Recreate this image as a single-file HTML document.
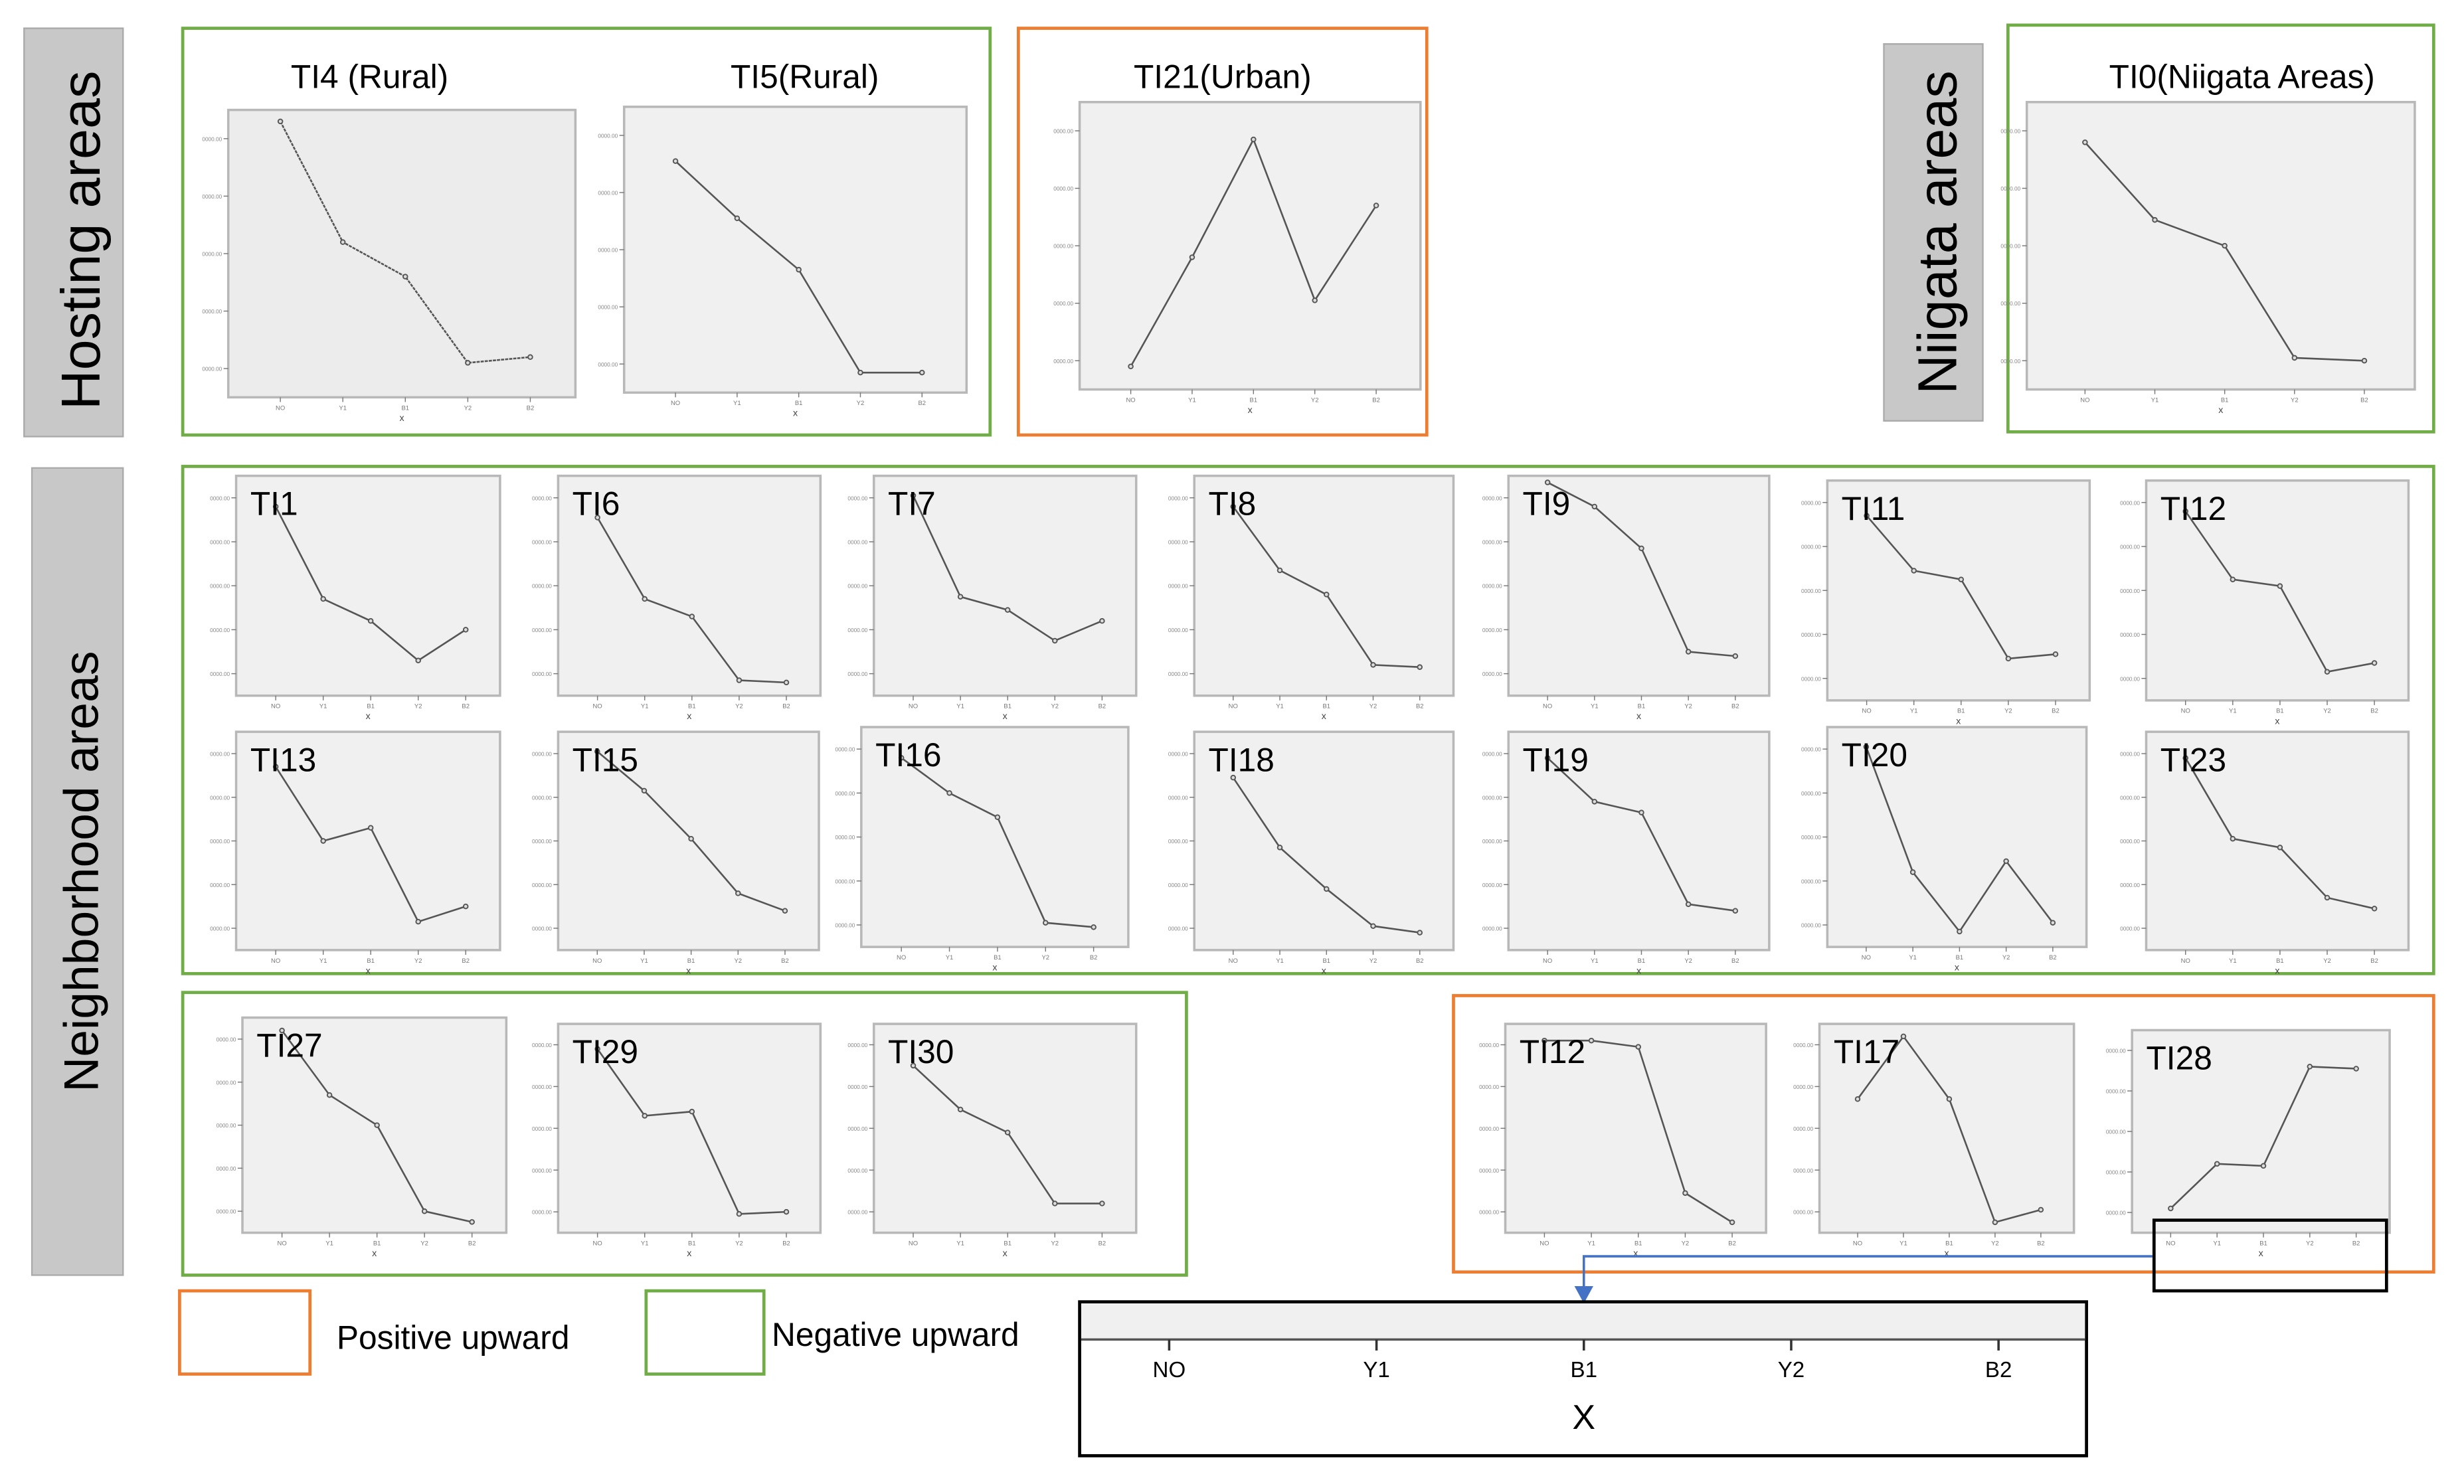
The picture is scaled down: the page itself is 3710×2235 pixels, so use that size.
<!DOCTYPE html>
<html><head><meta charset="utf-8"><style>
html,body{margin:0;padding:0;background:#fff}
svg{display:block}
text{font-family:"Liberation Sans",sans-serif}
</style></head><body>
<svg id="fig" xmlns="http://www.w3.org/2000/svg" width="3710" height="2235" viewBox="0 0 1568 945">
<rect x="0" y="0" width="1568" height="945" fill="#fff"/>
<g>
<rect x="15" y="18" width="63" height="260" fill="#c8c8c8" stroke="#aaa"/>
<text transform="translate(63,153) rotate(-90)" text-anchor="middle" font-size="35">Hosting areas</text></g>
<g>
<rect x="20" y="298" width="58" height="514" fill="#c8c8c8" stroke="#aaa"/>
<text transform="translate(62,555) rotate(-90)" text-anchor="middle" font-size="31">Neighborhood areas</text></g>
<g>
<rect x="1199" y="28" width="63" height="240" fill="#c8c8c8" stroke="#aaa"/>
<text transform="translate(1245,148) rotate(-90)" text-anchor="middle" font-size="35">Niigata areas</text></g>
<rect x="116" y="18" width="514" height="259" fill="none" stroke="#70ad47" stroke-width="2"/>
<rect x="648" y="18" width="260" height="259" fill="none" stroke="#ed7d31" stroke-width="2"/>
<rect x="1278" y="16" width="271" height="259" fill="none" stroke="#70ad47" stroke-width="2"/>
<rect x="116" y="297" width="1433" height="323" fill="none" stroke="#70ad47" stroke-width="2"/>
<rect x="116" y="632" width="639" height="180" fill="none" stroke="#70ad47" stroke-width="2"/>
<rect x="925" y="634" width="624" height="176" fill="none" stroke="#ed7d31" stroke-width="2"/>
<text x="235" y="56" text-anchor="middle" font-size="21">TI4 (Rural)</text>
<text x="512" y="56" text-anchor="middle" font-size="21">TI5(Rural)</text>
<text x="778" y="56" text-anchor="middle" font-size="21">TI21(Urban)</text>
<text x="1427" y="56" text-anchor="middle" font-size="21">TI0(Niigata Areas)</text>
<g id="charts"></g>
<rect x="114" y="822" width="83" height="53" fill="none" stroke="#ed7d31" stroke-width="2"/>
<text x="214" y="859" font-size="21">Positive upward</text>
<rect x="411" y="822" width="75" height="53" fill="none" stroke="#70ad47" stroke-width="2"/>
<text x="491" y="857" font-size="21">Negative upward</text>
<rect x="1371" y="777" width="148" height="45" fill="none" stroke="#000" stroke-width="2"/>
<path d="M1370 800 H1008 V822" fill="none" stroke="#4472c4" stroke-width="1.5"/>
<path d="M1002 819 L1014 819 L1008 830 Z" fill="#4472c4"/>
<g id="bigaxis">
<rect x="687" y="829" width="641" height="98" fill="#fff" stroke="#000" stroke-width="2"/>
<rect x="688" y="830" width="639" height="23" fill="#f0f0f0"/>
<line x1="688" y1="853" x2="1327" y2="853" stroke="#555" stroke-width="1.5"/>
<text x="1008" y="910" text-anchor="middle" font-size="22">X</text>
</g>
</svg>
<script>
const categories = ['NO','Y1','B1','Y2','B2'];
const ti4 = [96,54,42,12,14];
const ti5 = [81,61,43,7,7];
const ti21 = [8,46,87,31,64];
const ti0 = [86,59,50,11,10];
const ti1 = [86,44,34,16,30];
const ti6 = [81,44,36,7,6];
const ti7 = [91,45,39,25,34];
const ti8 = [86,57,46,14,13];
const ti9 = [97,86,67,20,18];
const ti11 = [84,59,55,19,21];
const ti12 = [86,55,52,13,17];
const ti13 = [84,50,56,13,20];
const ti15 = [91,73,51,26,18];
const ti16 = [86,70,59,11,9];
const ti18 = [79,47,28,11,8];
const ti19 = [88,68,63,21,18];
const ti20 = [91,34,7,39,11];
const ti23 = [88,51,47,24,19];
const ti27 = [94,64,50,10,5];
const ti29 = [88,56,58,9,10];
const ti30 = [80,59,48,14,14];
const ti12pos = [92,92,89,19,5];
const ti17 = [64,94,64,5,11];
const ti28 = [12,34,33,82,81];
const bigAxisTicks = ['NO','Y1','B1','Y2','B2'];

const NS='http://www.w3.org/2000/svg';
function mk(tag,attrs,parent){const e=document.createElementNS(NS,tag);for(const k in attrs)e.setAttribute(k,attrs[k]);parent.appendChild(e);return e;}
const charts=[
 {id:'ti4',v:ti4,x:145,y:70,w:221,h:183,label:null,tex:true},
 {id:'ti5',v:ti5,x:397,y:68,w:218,h:182,label:null},
 {id:'ti21',v:ti21,x:687,y:65,w:217,h:183,label:null},
 {id:'ti0',v:ti0,x:1290,y:65,w:247,h:183,label:null},
 {id:'ti1',v:ti1,x:150,y:303,w:168,h:140,label:'TI1'},
 {id:'ti6',v:ti6,x:355,y:303,w:167,h:140,label:'TI6'},
 {id:'ti7',v:ti7,x:556,y:303,w:167,h:140,label:'TI7'},
 {id:'ti8',v:ti8,x:760,y:303,w:165,h:140,label:'TI8'},
 {id:'ti9',v:ti9,x:960,y:303,w:166,h:140,label:'TI9'},
 {id:'ti11',v:ti11,x:1163,y:306,w:167,h:140,label:'TI11'},
 {id:'ti12',v:ti12,x:1366,y:306,w:167,h:140,label:'TI12'},
 {id:'ti13',v:ti13,x:150,y:466,w:168,h:139,label:'TI13'},
 {id:'ti15',v:ti15,x:355,y:466,w:166,h:139,label:'TI15'},
 {id:'ti16',v:ti16,x:548,y:463,w:170,h:140,label:'TI16'},
 {id:'ti18',v:ti18,x:760,y:466,w:165,h:139,label:'TI18'},
 {id:'ti19',v:ti19,x:960,y:466,w:166,h:139,label:'TI19'},
 {id:'ti20',v:ti20,x:1163,y:463,w:165,h:140,label:'TI20'},
 {id:'ti23',v:ti23,x:1366,y:466,w:167,h:139,label:'TI23'},
 {id:'ti27',v:ti27,x:154,y:648,w:168,h:137,label:'TI27'},
 {id:'ti29',v:ti29,x:355,y:652,w:167,h:133,label:'TI29'},
 {id:'ti30',v:ti30,x:556,y:652,w:167,h:133,label:'TI30'},
 {id:'ti12-positive',v:ti12pos,x:958,y:652,w:166,h:133,label:'TI12'},
 {id:'ti17',v:ti17,x:1158,y:652,w:162,h:133,label:'TI17'},
 {id:'ti28',v:ti28,x:1357,y:656,w:164,h:129,label:'TI28'}
];
const root=document.getElementById('charts');
charts.forEach(c=>{
 const g=mk('g',{},root);
 
 
 const xs=i=>c.x+c.w*(0.15+0.18*i);
 const ys=v=>c.y+c.h*(1-v/100);
 const r=mk('rect',{x:c.x,y:c.y,width:c.w,height:c.h,fill:c.tex?'#ececec':'#f0f0f0',stroke:'#b8b8b8','stroke-width':1.5},g);
 
 
 for(let k=0;k<5;k++){const ty=c.y+c.h*(0.1+0.2*k);
  mk('line',{x1:c.x-3,y1:ty,x2:c.x,y2:ty,stroke:'#777','stroke-width':0.6},g);
  const t=mk('text',{x:c.x-4,y:ty+1.5,'text-anchor':'end','font-size':3.5,fill:'#888'},g);t.textContent='0000.00';}
 categories.forEach((cat,i)=>{mk('line',{x1:xs(i),y1:c.y+c.h,x2:xs(i),y2:c.y+c.h+3,stroke:'#777','stroke-width':0.6},g);
  const t=mk('text',{x:xs(i),y:c.y+c.h+8,'text-anchor':'middle','font-size':4,fill:'#777'},g);t.textContent=cat;});
 const xl=mk('text',{x:c.x+c.w/2,y:c.y+c.h+15,'text-anchor':'middle','font-size':6,fill:'#444'},g);xl.textContent='x';
 const pts=c.v.map((v,i)=>xs(i)+','+ys(v)).join(' ');
 const pl=mk('polyline',{points:pts,fill:'none',stroke:'#555','stroke-width':1.1,'stroke-dasharray':c.tex?'2 0.6':'none'},g);
 
 
 c.v.forEach((v,i)=>{const p=mk('circle',{cx:xs(i),cy:ys(v),r:1.4,fill:'#ddd',stroke:'#555','stroke-width':0.8},g);
  
  });
 if(c.label){const t=mk('text',{x:c.x+9,y:c.y+25,'font-size':21,fill:'#000'},g);t.textContent=c.label;
  
  }
});
const ba=document.getElementById('bigaxis');
bigAxisTicks.forEach((t,i)=>{const x=744+i*132;
 mk('line',{x1:x,y1:853,x2:x,y2:860,stroke:'#333','stroke-width':1.5},ba);
 const tx=mk('text',{x:x,y:877,'text-anchor':'middle','font-size':14},ba);tx.textContent=t;
 
 });
</script>
</body></html>
